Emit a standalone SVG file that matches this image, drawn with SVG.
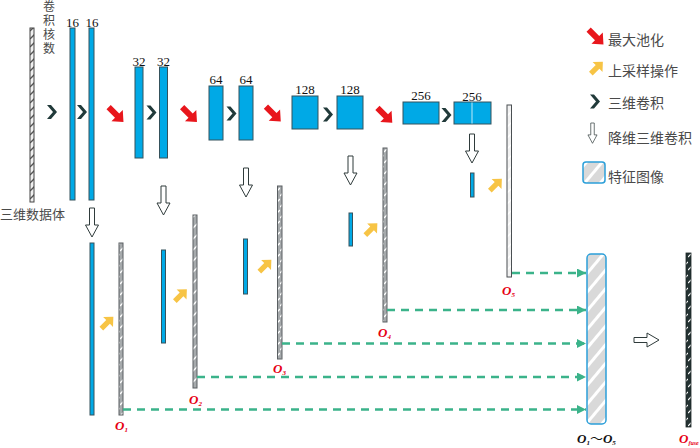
<svg xmlns="http://www.w3.org/2000/svg" xmlns:xlink="http://www.w3.org/1999/xlink" width="700" height="448" viewBox="0 0 700 448">
<style>
.blue{fill:#00a9e6;stroke:#35525c;stroke-width:1}
.hat{fill:url(#hatch);stroke:#5a5f62;stroke-width:1}
.num{font-family:"Liberation Serif",serif;font-size:13px;fill:#111;text-anchor:middle}
.cn{font-family:"Noto Sans CJK SC",sans-serif;fill:#4a4a4a}
.lab{font-family:"Liberation Serif",serif;font-weight:bold;font-style:italic;font-size:13px;fill:#e60012}
.sub{font-size:7px}
.dash{stroke:#3bb38a;stroke-width:2.5;stroke-dasharray:8 6;fill:none;marker-end:url(#gh)}
.down{fill:#fff;stroke:#2f3b3b;stroke-width:1}
</style>
<defs>
<pattern id="hatch" patternUnits="userSpaceOnUse" width="8" height="11">
<rect width="8" height="11" fill="#a6aaac"/>
<line x1="0" y1="9" x2="8" y2="1" stroke="#fff" stroke-width="1.3"/>
</pattern>
<pattern id="hatchL" patternUnits="userSpaceOnUse" width="8" height="11">
<rect width="8" height="11" fill="#f2f2f2"/>
<line x1="0" y1="9" x2="8" y2="1" stroke="#fff" stroke-width="1.3"/>
</pattern>
<pattern id="hatchD" patternUnits="userSpaceOnUse" width="8" height="13">
<rect width="8" height="13" fill="#243232"/>
<line x1="0" y1="10" x2="8" y2="2" stroke="#fff" stroke-width="1.2"/>
</pattern>
<pattern id="hatchIn" patternUnits="userSpaceOnUse" width="6" height="8">
<rect width="6" height="8" fill="#efefef"/>
<line x1="0" y1="7" x2="6" y2="1" stroke="#555" stroke-width="1.3"/>
</pattern>
<pattern id="stripes" patternUnits="userSpaceOnUse" width="12" height="12" patternTransform="rotate(40)">
<rect width="12" height="12" fill="#d9d9d9"/>
<rect width="3" height="12" fill="#fff"/>
</pattern>
<marker id="gh" markerUnits="userSpaceOnUse" markerWidth="10" markerHeight="10" refX="9" refY="4.5" orient="auto">
<path d="M0,0 L9,4.5 L0,9 z" fill="#3bb38a"/>
</marker>
<path id="redA" d="M-10,-3 L2,-3 L2,-8 L11,0 L2,8 L2,3 L-10,3 Z" fill="#e8161c" transform="rotate(45)"/>
<path id="yelA" d="M-8,-2.6 L1.5,-2.6 L1.5,-7 L9,0 L1.5,7 L1.5,2.6 L-8,2.6 Z" fill="#f7c445" transform="rotate(-45)"/>
<path id="chev" d="M-5,-7 L-1,-7 L5,0 L-1,7 L-5,7 L1,0 Z" fill="#213a3a"/>
<path id="downA" d="M-2.5,0 H2.5 V17 H6.5 L0,29 L-6.5,17 H-2.5 Z" class="down"/>
</defs>

<g id="input-volume">
<rect x="30" y="28" width="4" height="174" fill="url(#hatchIn)" stroke="#444" stroke-width="1"/>
<text class="cn" font-size="12" x="49" y="0" style="writing-mode:vertical-rl;letter-spacing:2px">卷积核数</text>
<text class="cn" font-size="13" x="0" y="219">三维数据体</text>
</g>

<g id="enc16">
<rect class="blue" x="70" y="28" width="5" height="172"/>
<rect class="blue" x="89" y="28" width="5" height="172"/>
<text class="num" x="72.5" y="27">16</text>
<text class="num" x="92" y="27">16</text>
</g>
<g id="enc32">
<rect class="blue" x="135" y="67" width="8" height="91"/>
<rect class="blue" x="159.5" y="67" width="8" height="91"/>
<text class="num" x="139" y="66">32</text>
<text class="num" x="163.5" y="66">32</text>
</g>
<g id="enc64">
<rect class="blue" x="209" y="86" width="14" height="54"/>
<rect class="blue" x="239" y="86" width="14" height="54"/>
<text class="num" x="216" y="84">64</text>
<text class="num" x="246" y="84">64</text>
</g>
<g id="enc128">
<rect class="blue" x="292" y="96" width="26" height="33"/>
<rect class="blue" x="337" y="96" width="26" height="33"/>
<text class="num" x="305" y="94">128</text>
<text class="num" x="350" y="94">128</text>
</g>
<g id="enc256">
<rect class="blue" x="403" y="102" width="36" height="22"/>
<rect class="blue" x="454" y="102" width="37" height="22"/>
<line x1="472" y1="102.5" x2="472" y2="123.5" stroke="#bfe9f8" stroke-width="1"/>
<text class="num" x="421" y="100">256</text>
<text class="num" x="472" y="101">256</text>
</g>

<g id="dec1">
<rect class="blue" x="90" y="243" width="4" height="172"/>
<rect class="hat" x="119" y="243" width="4" height="172"/>
<text class="lab" x="115" y="430">O<tspan class="sub" dy="2">1</tspan></text>
</g>
<g id="dec2">
<rect class="blue" x="161.5" y="250" width="4" height="93"/>
<rect class="hat" x="193" y="215" width="4" height="173"/>
<text class="lab" x="189" y="404">O<tspan class="sub" dy="2">2</tspan></text>
</g>
<g id="dec3">
<rect class="blue" x="243.5" y="239" width="4" height="55"/>
<rect class="hat" x="277.5" y="186" width="4.5" height="173"/>
<text class="lab" x="273" y="373">O<tspan class="sub" dy="2">3</tspan></text>
</g>
<g id="dec4">
<rect class="blue" x="349" y="213" width="3.5" height="33"/>
<rect class="hat" x="383" y="148" width="4" height="174"/>
<text class="lab" x="378" y="337">O<tspan class="sub" dy="2">4</tspan></text>
</g>
<g id="dec5">
<rect class="blue" x="470.5" y="173" width="3.5" height="24"/>
<rect x="507" y="105" width="4.5" height="172" fill="url(#hatchL)" stroke="#4a4f52" stroke-width="1"/>
<text class="lab" x="502" y="295">O<tspan class="sub" dy="2">5</tspan></text>
</g>

<g id="concat">
<rect x="587" y="254" width="19" height="170" rx="4" fill="url(#stripes)" stroke="#2b9fd9" stroke-width="1.5"/>
<text class="lab" x="577" y="443" style="fill:#111">O<tspan class="sub" dy="2">1</tspan><tspan dy="-2" font-family="Noto Sans CJK SC,sans-serif" font-style="normal" font-weight="normal">～</tspan>O<tspan class="sub" dy="2">5</tspan></text>
</g>
<g id="fuse">
<rect x="686" y="253" width="5" height="174" fill="url(#hatchD)" stroke="#1c2626" stroke-width="0.8"/>
<text class="lab" x="679" y="443">O<tspan font-size="6" dy="1.5">fuse</tspan></text>
</g>

<g id="legend">
<use href="#redA" transform="translate(595.7,36.7)"/>
<text class="cn" font-size="14" x="608" y="44.5">最大池化</text>
<use href="#yelA" transform="translate(596.5,68)"/>
<text class="cn" font-size="14" x="608" y="76">上采样操作</text>
<use href="#chev" transform="translate(595,101.5)"/>
<text class="cn" font-size="14" x="608" y="108">三维卷积</text>
<use href="#downA" transform="translate(592.5,123) scale(0.7)"/>
<text class="cn" font-size="14" x="608" y="143">降维三维卷积</text>
<rect x="583" y="162" width="22" height="21" rx="3" fill="url(#stripes)" stroke="#2b9fd9" stroke-width="1.5"/>
<text class="cn" font-size="14" x="608" y="182">特征图像</text>
</g>

<g id="connectors">
<use href="#chev" transform="translate(52,112)"/>
<use href="#chev" transform="translate(82,112)"/>
<use href="#chev" transform="translate(151.5,112.5)"/>
<use href="#chev" transform="translate(231.5,113.5)"/>
<use href="#chev" transform="translate(328,114.5)"/>
<use href="#chev" transform="translate(446.5,115)"/>
<use href="#redA" transform="translate(115.7,114.2)"/>
<use href="#redA" transform="translate(189.2,114.2)"/>
<use href="#redA" transform="translate(273,113.7)"/>
<use href="#redA" transform="translate(384.5,115)"/>
<use href="#downA" transform="translate(92,208)"/>
<use href="#downA" transform="translate(163.5,186)"/>
<use href="#downA" transform="translate(246,168)"/>
<use href="#downA" transform="translate(350.5,156)"/>
<use href="#downA" transform="translate(472,134)"/>
<use href="#yelA" transform="translate(107,323)"/>
<use href="#yelA" transform="translate(180.5,295.5)"/>
<use href="#yelA" transform="translate(265,266)"/>
<use href="#yelA" transform="translate(371,229.5)"/>
<use href="#yelA" transform="translate(495.5,185)"/>
<path class="dash" d="M512,273 H586"/>
<path class="dash" d="M387,310 H586"/>
<path class="dash" d="M282,343.5 H586"/>
<path class="dash" d="M197,377 H586"/>
<path class="dash" d="M123,409.5 H586"/>
<path d="M634,337.5 H647 V333 L659,340 L647,347 V342.5 H634 Z" class="down"/>
</g>
</svg>
